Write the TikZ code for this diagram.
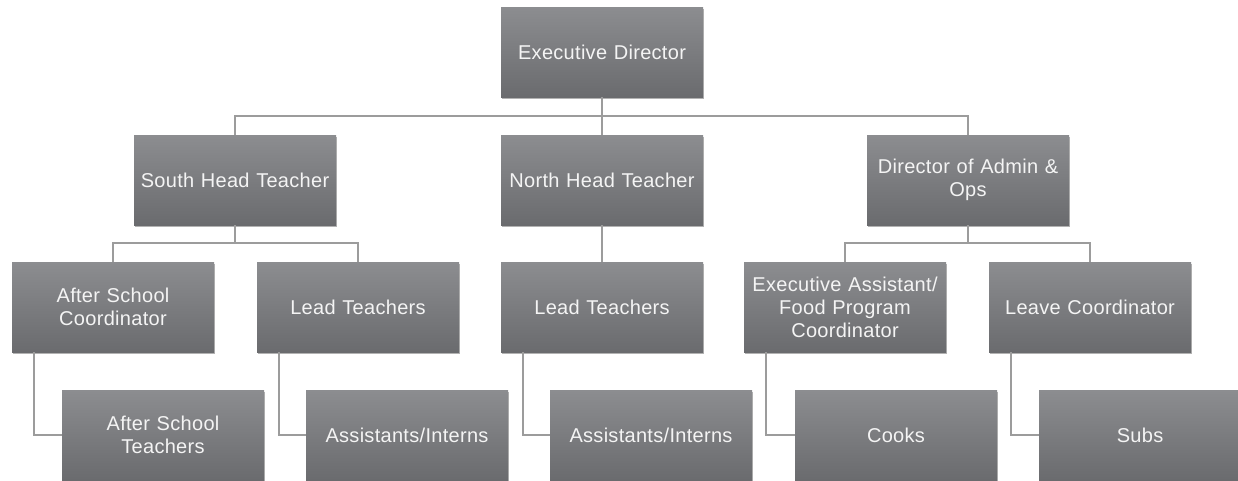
\documentclass[tikz,border=0pt]{standalone}
\usepackage{fontspec}
\setmainfont{Liberation Sans}[LetterSpace=1.5]
\usetikzlibrary{shadows}
\definecolor{boxtop}{HTML}{8C8D90}
\definecolor{boxbot}{HTML}{6A6B6E}
\definecolor{boxtext}{HTML}{F4F4F4}
\definecolor{linegray}{HTML}{9C9C9C}
\begin{document}
\begin{tikzpicture}[x=1pt,y=-1pt,
  orgbox/.style={rectangle, minimum width=202pt, minimum height=90pt, inner sep=2pt,
    top color=boxtop, bottom color=boxbot, draw=none,
    text=boxtext, align=center, text width=198pt,
    font=\fontsize{20}{23}\selectfont,
    drop shadow={shadow xshift=0.6pt, shadow yshift=-1.6pt, opacity=0.3, fill=black}},
  link/.style={draw=linegray, line width=1.4pt}]
\useasboundingbox (0,0) rectangle (1238,480);
% row 1
\node[orgbox] (ED) at (602,52) {Executive Director};
% row 2
\node[orgbox] (SH) at (235,180) {South Head Teacher};
\node[orgbox] (NH) at (602,180) {North Head Teacher};
\node[orgbox] (DA) at (968,180) {Director of Admin \&\\Ops};
% row 3
\node[orgbox] (ASC) at (113,307) {After School\\Coordinator};
\node[orgbox] (LT1) at (358,307) {Lead Teachers};
\node[orgbox] (LT2) at (602,307) {Lead Teachers};
\node[orgbox] (EA) at (845,307) {Executive Assistant/\\Food Program\\Coordinator};
\node[orgbox] (LC) at (1090,307) {Leave Coordinator};
% row 4
\node[orgbox] (AST) at (163,435) {After School\\Teachers};
\node[orgbox] (AI1) at (407,435) {Assistants/Interns};
\node[orgbox] (AI2) at (651,435) {Assistants/Interns};
\node[orgbox] (CK) at (896,435) {Cooks};
\node[orgbox] (SB) at (1140,435) {Subs};
% connectors
\coordinate (b1) at (602,116);
\coordinate (b2) at (235,243);
\coordinate (b3) at (968,243);
\draw[link] (ED.south) -- (NH.north);
\draw[link] (SH.north) -- (SH.north |- b1) -- (DA.north |- b1) -- (DA.north);
\draw[link] (SH.south) -- (b2);
\draw[link] (ASC.north) -- (ASC.north |- b2) -- (LT1.north |- b2) -- (LT1.north);
\draw[link] (NH.south) -- (LT2.north);
\draw[link] (DA.south) -- (b3);
\draw[link] (EA.north) -- (EA.north |- b3) -- (LC.north |- b3) -- (LC.north);
\draw[link] ([xshift=22pt]ASC.south west) |- (AST.west);
\draw[link] ([xshift=22pt]LT1.south west) |- (AI1.west);
\draw[link] ([xshift=22pt]LT2.south west) |- (AI2.west);
\draw[link] ([xshift=22pt]EA.south west) |- (CK.west);
\draw[link] ([xshift=22pt]LC.south west) |- (SB.west);
\end{tikzpicture}
\end{document}
